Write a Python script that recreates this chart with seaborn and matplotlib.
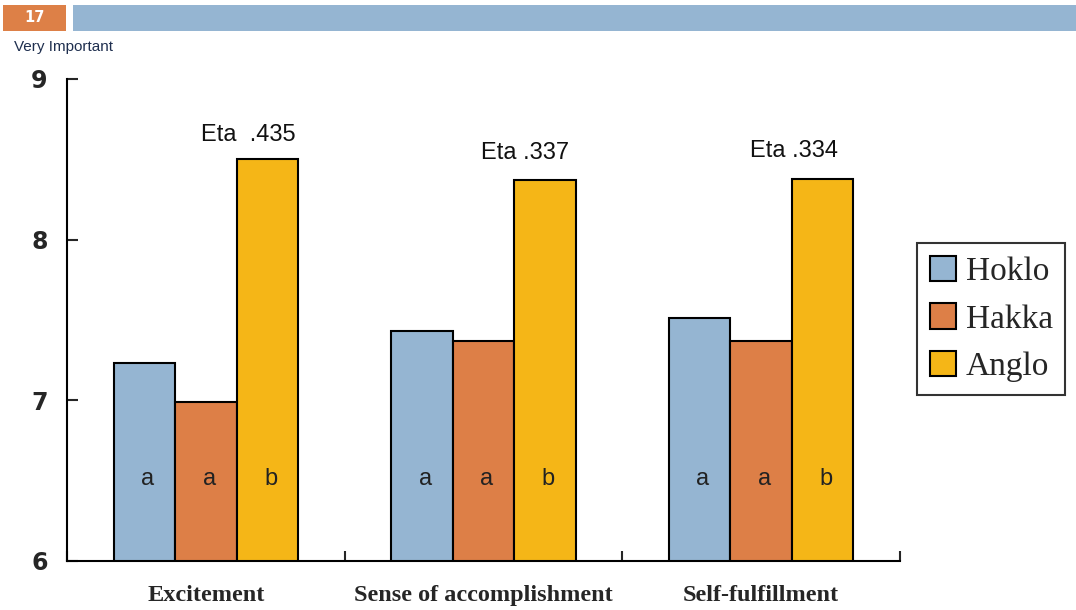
import matplotlib
matplotlib.use("Agg")
import matplotlib.pyplot as plt
from matplotlib.patches import Rectangle
import seaborn as sns
import pandas as pd

# Mean importance scores by ethnic group
categories = ["Excitement", "Sense of accomplishment", "Self-fulfillment"]
groups = ["Hoklo", "Hakka", "Anglo"]
hoklo = [7.23, 7.43, 7.51]
hakka = [6.99, 7.37, 7.37]
anglo = [8.50, 8.37, 8.38]
eta_labels = ["Eta  .435", "Eta .337", "Eta .334"]
letters = ["a", "a", "b"]
yticks = [6, 7, 8, 9]

colors = ["#95B5D2", "#DD7F47", "#F5B617"]

rows = []
for g, vals in zip(groups, [hoklo, hakka, anglo]):
    for c, v in zip(categories, vals):
        rows.append({"category": c, "group": g, "score": v})
df = pd.DataFrame(rows)

sns.set_style("white")
fig = plt.figure(figsize=(10.76, 6.10), dpi=100)
ax = fig.add_axes([67 / 1076, 49 / 610, 833 / 1076, 482 / 610])

sns.barplot(data=df, x="category", y="score", hue="group", order=categories,
            hue_order=groups, palette=colors, width=0.665, edgecolor="black",
            linewidth=1.5, saturation=1, ax=ax, legend=True)

ax.set_xlim(-0.5, 2.5)
ax.set_ylim(6, 9)
ax.set_yticks(yticks)
ax.set_yticklabels([str(t) for t in yticks], fontsize=17, fontweight="bold",
                   family="DejaVu Sans")
ax.tick_params(axis="y", direction="in", length=8, width=1.5, pad=14, left=True)
ax.set_xticks(range(len(categories)))
ax.set_xticklabels(categories, fontsize=17.5, fontweight="bold", family="Liberation Serif")
ax.tick_params(axis="x", length=0, pad=17)
ax.set_xticks([-0.5, 0.5, 1.5, 2.5], minor=True)
ax.tick_params(axis="x", which="minor", direction="in", length=7, width=1.5, bottom=True)
ax.set_xlabel("")
ax.set_ylabel("")

for side in ["top", "right"]:
    ax.spines[side].set_visible(False)
for side in ["left", "bottom"]:
    ax.spines[side].set_color("black")
    ax.spines[side].set_linewidth(1.5)

# Significance letters inside each bar
offsets = [-0.665 / 3, 0.0, 0.665 / 3]
for i in range(len(categories)):
    for off, letter in zip(offsets, letters):
        ax.text(i + off + 0.012, 6.51, letter, ha="center", va="center",
                fontsize=17, color="#222222", family="Liberation Sans")

# Eta values above the Anglo bars
eta_x = [0.152, 1.149, 2.118]
eta_gap = [0.15, 0.17, 0.17]
for i, (lab, v) in enumerate(zip(eta_labels, anglo)):
    ax.text(eta_x[i], v + eta_gap[i], lab, ha="center", va="center", fontsize=17,
            color="#111111", family="Liberation Sans")

# Legend
handles, labels = ax.get_legend_handles_labels()
leg = ax.legend(handles, labels, loc="upper left",
                bbox_to_anchor=(917 / 1076, 1 - 243 / 610),
                bbox_transform=fig.transFigure, borderaxespad=0, frameon=True,
                fancybox=False, prop={"family": "Liberation Serif", "size": 24},
                handlelength=0.78, handleheight=0.78, handletextpad=0.3,
                labelspacing=0.5, borderpad=0.38, edgecolor="black")
leg.get_frame().set_linewidth(1.5)

# Slide header band
fig.patches.append(Rectangle((3 / 1076, 1 - 31 / 610), 63 / 1076, 26 / 610,
                             transform=fig.transFigure, facecolor="#DD8047",
                             edgecolor="none"))
fig.patches.append(Rectangle((73 / 1076, 1 - 31 / 610), 1003 / 1076, 26 / 610,
                             transform=fig.transFigure, facecolor="#95B5D2",
                             edgecolor="none"))
fig.text(35 / 1076, 1 - 18 / 610, "17", ha="center", va="center", color="white",
         fontsize=10.5, fontweight="bold", family="DejaVu Sans")
fig.text(14 / 1076, 1 - 47 / 610, "Very Important", ha="left", va="center",
         color="#1F2F4F", fontsize=11, family="Liberation Sans")

fig.savefig("out.png", dpi=100)
